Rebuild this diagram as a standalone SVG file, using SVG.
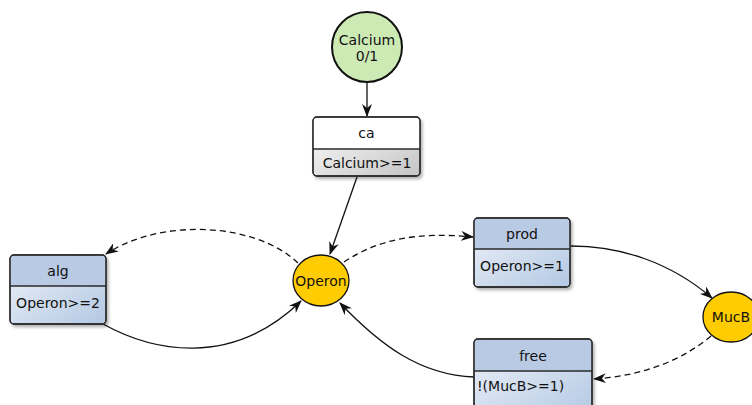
<svg xmlns="http://www.w3.org/2000/svg" width="752" height="405" viewBox="0 0 752 405">
<style>
text{font-family:"DejaVu Sans","Liberation Sans",sans-serif;font-size:14px;fill:#111;}
.c{text-anchor:middle;}
.box{stroke:#2a2a2a;stroke-width:1.3;}
.div{stroke:#2a2a2a;stroke-width:1.3;}
.e{fill:none;stroke:#111;stroke-width:1.3;}
.d{stroke-dasharray:6,4;}
.place{stroke:#111;stroke-width:1.3;fill:#ffcc00;}
</style>
<defs>
<linearGradient id="gb" x1="0" y1="0" x2="1" y2="1">
<stop offset="0" stop-color="#eef2f9"/>
<stop offset="1" stop-color="#b3c8e3"/>
</linearGradient>
<linearGradient id="gg" x1="0" y1="0" x2="1" y2="1">
<stop offset="0" stop-color="#ffffff"/>
<stop offset="1" stop-color="#c4c4c4"/>
</linearGradient>
<filter id="sh" x="-20%" y="-20%" width="150%" height="150%">
<feDropShadow dx="2" dy="2.5" stdDeviation="1.8" flood-color="#000" flood-opacity="0.3"/>
</filter>
<marker id="ar" viewBox="0 0 13 10" refX="12" refY="5" markerWidth="13" markerHeight="10" markerUnits="userSpaceOnUse" orient="auto">
<path d="M0,0 L13,5 L0,10 L4,5 Z" fill="#111"/>
</marker>
</defs>

<g id="connectors">
<path class="e" d="M367,83 L367,116" marker-end="url(#ar)"/>
<path class="e" d="M357,177 L330,254" marker-end="url(#ar)"/>
<path class="e d" d="M298,263 C255,222 160,218 106,254" marker-end="url(#ar)"/>
<path class="e" d="M103,324 C150,350 230,370 301,301" marker-end="url(#ar)"/>
<path class="e d" d="M344,262 C380,238 420,232 473,237" marker-end="url(#ar)"/>
<path class="e" d="M571,246 C620,246 670,262 712,298" marker-end="url(#ar)"/>
<path class="e d" d="M711,336 C680,362 640,376 594,379" marker-end="url(#ar)"/>
<path class="e" d="M474,377 C420,375 380,345 340,303" marker-end="url(#ar)"/>
</g>

<g id="Calcium">
<circle cx="367" cy="47" r="35" fill="#cdeab4" stroke="#111" stroke-width="2"/>
<text class="c" x="367" y="45">Calcium</text>
<text class="c" x="367" y="61">0/1</text>
</g>

<g id="ca">
<g filter="url(#sh)">
<rect class="box" x="313" y="117" width="107" height="59" rx="4" fill="url(#gg)"/>
</g>
<path d="M313.65,149 V121 a3.35,3.35 0 0 1 3.35,-3.35 H416 a3.35,3.35 0 0 1 3.35,3.35 V149 Z" fill="#fff"/>
<rect class="box" x="313" y="117" width="107" height="59" rx="4" fill="none"/>
<line class="div" x1="313" y1="149" x2="420" y2="149"/>
<text class="c" x="366.5" y="138">ca</text>
<text class="c" x="367" y="168">Calcium&gt;=1</text>
</g>

<g id="Operon">
<ellipse class="place" cx="321" cy="280.5" rx="28" ry="25.5"/>
<text class="c" x="321" y="286">Operon</text>
</g>

<g id="MucB">
<ellipse class="place" cx="731" cy="317" rx="28" ry="25"/>
<text class="c" x="731" y="322">MucB</text>
</g>

<g id="alg">
<g filter="url(#sh)">
<rect class="box" x="10" y="255" width="96" height="69" rx="4" fill="url(#gb)"/>
</g>
<path d="M10.65,286 V259 a3.35,3.35 0 0 1 3.35,-3.35 H102 a3.35,3.35 0 0 1 3.35,3.35 V286 Z" fill="#b9cbe4"/>
<rect class="box" x="10" y="255" width="96" height="69" rx="4" fill="none"/>
<line class="div" x1="10" y1="286" x2="106" y2="286"/>
<text class="c" x="58" y="276">alg</text>
<text class="c" x="58" y="308">Operon&gt;=2</text>
</g>

<g id="prod">
<g filter="url(#sh)">
<rect class="box" x="474" y="218" width="96" height="69" rx="4" fill="url(#gb)"/>
</g>
<path d="M474.65,249 V222 a3.35,3.35 0 0 1 3.35,-3.35 H566 a3.35,3.35 0 0 1 3.35,3.35 V249 Z" fill="#b9cbe4"/>
<rect class="box" x="474" y="218" width="96" height="69" rx="4" fill="none"/>
<line class="div" x1="474" y1="249" x2="570" y2="249"/>
<text class="c" x="522" y="239">prod</text>
<text class="c" x="522" y="271">Operon&gt;=1</text>
</g>

<g id="free">
<g filter="url(#sh)">
<rect class="box" x="474" y="339" width="118" height="80" rx="4" fill="url(#gb)"/>
</g>
<path d="M474.65,371 V343 a3.35,3.35 0 0 1 3.35,-3.35 H588 a3.35,3.35 0 0 1 3.35,3.35 V371 Z" fill="#b9cbe4"/>
<rect class="box" x="474" y="339" width="118" height="80" rx="4" fill="none"/>
<line class="div" x1="474" y1="371" x2="592" y2="371"/>
<text class="c" x="533" y="361">free</text>
<text x="477" y="391">!(MucB&gt;=1)</text>
</g>
</svg>
